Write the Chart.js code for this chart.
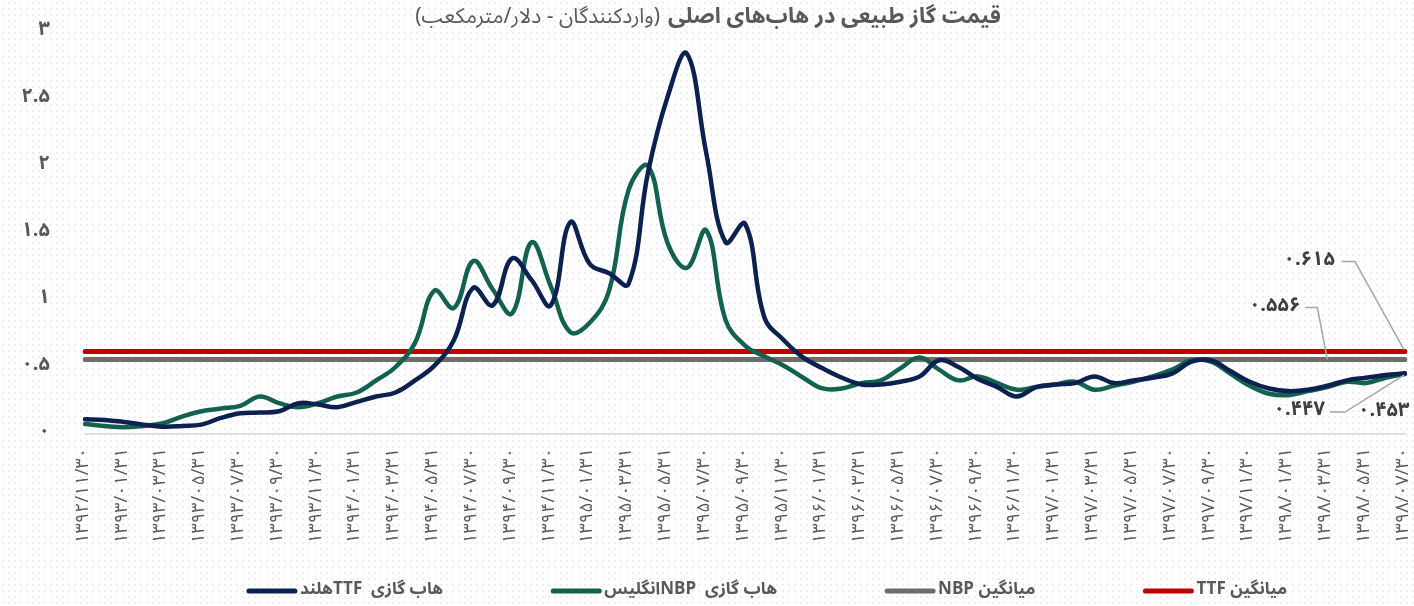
<!DOCTYPE html>
<html lang="fa">
<head>
<meta charset="utf-8">
<script src="https://cdn.jsdelivr.net/npm/chart.js@4"></script>
<style>
  html, body { margin: 0; padding: 0; overflow: hidden; }
  body {
    width: 1414px; height: 606px;
    background-color: #ffffff;
    background-image: radial-gradient(circle, #efefef 0.9px, transparent 1.2px);
    background-size: 6px 6px;
  }
  #wrap { position: relative; width: 1414px; height: 606px; }
</style>
</head>
<body>
<div id="wrap"><canvas id="c" width="1414" height="606"></canvas></div>
<script>
// ---------- DATA ----------
const titleBold = 'قیمت گاز طبیعی در هاب‌های اصلی';
const titleNormal = '(واردکنندگان - دلار/مترمکعب)';

const categories = [
  '۱۳۹۲/۱۱/۳۰','۱۳۹۲/۱۲/۲۹',
  '۱۳۹۳/۰۱/۳۱','۱۳۹۳/۰۲/۳۱','۱۳۹۳/۰۳/۳۱','۱۳۹۳/۰۴/۳۱','۱۳۹۳/۰۵/۳۱','۱۳۹۳/۰۶/۳۱',
  '۱۳۹۳/۰۷/۳۰','۱۳۹۳/۰۸/۳۰','۱۳۹۳/۰۹/۳۰','۱۳۹۳/۱۰/۳۰','۱۳۹۳/۱۱/۳۰','۱۳۹۳/۱۲/۲۹',
  '۱۳۹۴/۰۱/۳۱','۱۳۹۴/۰۲/۳۱','۱۳۹۴/۰۳/۳۱','۱۳۹۴/۰۴/۳۱','۱۳۹۴/۰۵/۳۱','۱۳۹۴/۰۶/۳۱',
  '۱۳۹۴/۰۷/۳۰','۱۳۹۴/۰۸/۳۰','۱۳۹۴/۰۹/۳۰','۱۳۹۴/۱۰/۳۰','۱۳۹۴/۱۱/۳۰','۱۳۹۴/۱۲/۲۹',
  '۱۳۹۵/۰۱/۳۱','۱۳۹۵/۰۲/۳۱','۱۳۹۵/۰۳/۳۱','۱۳۹۵/۰۴/۳۱','۱۳۹۵/۰۵/۳۱','۱۳۹۵/۰۶/۳۱',
  '۱۳۹۵/۰۷/۳۰','۱۳۹۵/۰۸/۳۰','۱۳۹۵/۰۹/۳۰','۱۳۹۵/۱۰/۳۰','۱۳۹۵/۱۱/۳۰','۱۳۹۵/۱۲/۳۰',
  '۱۳۹۶/۰۱/۳۱','۱۳۹۶/۰۲/۳۱','۱۳۹۶/۰۳/۳۱','۱۳۹۶/۰۴/۳۱','۱۳۹۶/۰۵/۳۱','۱۳۹۶/۰۶/۳۱',
  '۱۳۹۶/۰۷/۳۰','۱۳۹۶/۰۸/۳۰','۱۳۹۶/۰۹/۳۰','۱۳۹۶/۱۰/۳۰','۱۳۹۶/۱۱/۳۰','۱۳۹۶/۱۲/۲۹',
  '۱۳۹۷/۰۱/۳۱','۱۳۹۷/۰۲/۳۱','۱۳۹۷/۰۳/۳۱','۱۳۹۷/۰۴/۳۱','۱۳۹۷/۰۵/۳۱','۱۳۹۷/۰۶/۳۱',
  '۱۳۹۷/۰۷/۳۰','۱۳۹۷/۰۸/۳۰','۱۳۹۷/۰۹/۳۰','۱۳۹۷/۱۰/۳۰','۱۳۹۷/۱۱/۳۰','۱۳۹۷/۱۲/۲۹',
  '۱۳۹۸/۰۱/۳۱','۱۳۹۸/۰۲/۳۱','۱۳۹۸/۰۳/۳۱','۱۳۹۸/۰۴/۳۱','۱۳۹۸/۰۵/۳۱','۱۳۹۸/۰۶/۳۱',
  '۱۳۹۸/۰۷/۳۰'
];

const ttfHub = [
  0.11, 0.105, 0.09, 0.07, 0.055, 0.06, 0.07, 0.12, 0.155, 0.16,
  0.17, 0.23, 0.22, 0.20, 0.24, 0.28, 0.31, 0.40, 0.51, 0.70,
  1.09, 0.96, 1.31, 1.15, 0.96, 1.58, 1.27, 1.20, 1.12, 1.95,
  2.51, 2.84, 2.10, 1.43, 1.57, 0.87, 0.70, 0.57, 0.49, 0.42,
  0.37, 0.37, 0.39, 0.43, 0.55, 0.50, 0.41, 0.35, 0.28, 0.35,
  0.37, 0.38, 0.43, 0.38, 0.40, 0.42, 0.45, 0.54, 0.55, 0.47,
  0.39, 0.34, 0.32, 0.33, 0.36, 0.40, 0.42, 0.44, 0.453
];

const nbpHub = [
  0.075, 0.06, 0.05, 0.06, 0.08, 0.13, 0.17, 0.19, 0.21, 0.28,
  0.23, 0.20, 0.23, 0.28, 0.31, 0.40, 0.50, 0.68, 1.07, 0.94,
  1.29, 1.08, 0.90, 1.43, 1.10, 0.76, 0.83, 1.07, 1.82, 2.0,
  1.43, 1.24, 1.52, 0.85, 0.66, 0.58, 0.51, 0.42, 0.34, 0.34,
  0.38, 0.40, 0.49, 0.57, 0.48, 0.40, 0.43, 0.38, 0.33, 0.35,
  0.37, 0.39, 0.33, 0.36, 0.39, 0.43, 0.48, 0.55, 0.54, 0.45,
  0.36, 0.30, 0.29, 0.32, 0.35, 0.39, 0.38, 0.42, 0.447
];

const avgTTF = 0.615;
const avgNBP = 0.556;

const seriesNames = ['هاب گازی  TTFهلند', 'هاب گازی  NBPانگلیس', 'میانگین NBP', 'میانگین TTF'];
const yTickLabels = ['۰', '۰.۵', '۱', '۱.۵', '۲', '۲.۵', '۳'];

// ---------- HELPERS ----------
const FONT = "'Noto Sans Arabic', 'DejaVu Sans', 'Noto Sans', sans-serif";
const faDigits = s => String(s).replace(/[0-9]/g, d => '۰۱۲۳۴۵۶۷۸۹'[+d]);
const fmt = v => faDigits(v.toFixed(3));

const COLORS = { ttf: '#0c2150', nbp: '#13624f', avgNbp: '#6d6d6d', avgTtf: '#c00000' };

const firstCat = categories[0];
const lastCat = categories[categories.length - 1];

// ---------- CUSTOM DRAWING PLUGIN ----------
const decor = {
  id: 'decor',
  afterDraw(chart) {
    const ctx = chart.ctx;
    const xs = chart.scales.x, ys = chart.scales.y;

    // Title
    ctx.save();
    ctx.fillStyle = '#595959';
    ctx.textBaseline = 'middle';
    ctx.direction = 'rtl';
    const fb = 'bold 22px ' + FONT, fn = '21px ' + FONT;
    ctx.font = fb; const wb = ctx.measureText(titleBold).width;
    ctx.font = fn; const wn = ctx.measureText(titleNormal).width;
    const gap = 8;
    const tot = wb + gap + wn;
    const cx = 708, ty = 20;
    const right = cx + tot / 2;
    ctx.textAlign = 'right';
    ctx.font = fb; ctx.fillText(titleBold, right, ty);
    ctx.font = fn; ctx.fillText(titleNormal, right - wb - gap, ty);
    ctx.restore();

    // Legend
    ctx.save();
    const lf = 'bold 17px ' + FONT;
    ctx.font = lf;
    const lineW = 50, lineGap = 3, itemGap = 108;
    const items = chart.data.datasets.map(ds => ({ label: ds.label, color: ds.borderColor, w: ctx.measureText(ds.label).width }));
    const total = items.reduce((a, it) => a + lineW + lineGap + it.w, 0) + itemGap * (items.length - 1);
    let lx = 767 - total / 2;
    const ly = 591;
    items.forEach(it => {
      ctx.strokeStyle = it.color;
      ctx.lineWidth = 5;
      ctx.lineCap = 'round';
      ctx.beginPath(); ctx.moveTo(lx + 2, ly); ctx.lineTo(lx + lineW - 2, ly); ctx.stroke();
      ctx.fillStyle = '#595959';
      ctx.direction = 'rtl';
      ctx.textAlign = 'right';
      ctx.textBaseline = 'middle';
      ctx.fillText(it.label, lx + lineW + lineGap + it.w, ly);
      lx += lineW + lineGap + it.w + itemGap;
    });
    ctx.restore();

    // Data labels with leader lines
    const lastIdx = categories.length - 1;
    const xEnd = xs.getPixelForValue(lastIdx);
    const pTTFavg = { x: xEnd, y: ys.getPixelForValue(avgTTF) };
    const pNBPavg = { x: xs.getPixelForValue(lastIdx - 4), y: ys.getPixelForValue(avgNBP) };
    const pNBPend = { x: xEnd, y: ys.getPixelForValue(nbpHub[lastIdx]) };
    const pTTFend = { x: xEnd, y: ys.getPixelForValue(ttfHub[lastIdx]) };

    ctx.save();
    ctx.font = 'bold 20px ' + FONT;
    ctx.fillStyle = '#404040';
    ctx.textBaseline = 'middle';
    ctx.strokeStyle = '#a6a6a6';
    ctx.lineWidth = 1.5;
    ctx.direction = 'ltr';

    const leader = (pts) => {
      ctx.beginPath();
      ctx.moveTo(pts[0][0], pts[0][1]);
      for (let i = 1; i < pts.length; i++) ctx.lineTo(pts[i][0], pts[i][1]);
      ctx.stroke();
    };

    const ly1 = pTTFavg.y - 90;
    ctx.textAlign = 'right';
    ctx.fillText(fmt(avgTTF), pTTFavg.x - 70, ly1);
    leader([[pTTFavg.x - 63, ly1], [pTTFavg.x - 50, ly1], [pTTFavg.x - 1, pTTFavg.y - 2]]);

    const ly2 = pNBPavg.y - 52;
    ctx.fillText(fmt(avgNBP), pNBPavg.x - 27, ly2);
    leader([[pNBPavg.x - 22, ly2], [pNBPavg.x - 10, ly2], [pNBPavg.x, pNBPavg.y]]);

    const ly3 = pNBPend.y + 38;
    ctx.fillText(fmt(nbpHub[lastIdx]), pNBPend.x - 80, ly3);
    leader([[pNBPend.x - 75, ly3], [pNBPend.x - 60, ly3], [pNBPend.x - 1, pNBPend.y + 1]]);

    ctx.textAlign = 'left';
    ctx.fillText(fmt(ttfHub[lastIdx]), pTTFend.x - 47, pTTFend.y + 40);
    ctx.restore();
  }
};

// ---------- CHART ----------
Chart.defaults.font.family = FONT;

new Chart(document.getElementById('c'), {
  type: 'line',
  data: {
    labels: categories,
    datasets: [
      { label: seriesNames[0], data: ttfHub, borderColor: COLORS.ttf, borderWidth: 4.5, tension: 0.4, pointRadius: 0, fill: false, borderCapStyle: 'round', borderJoinStyle: 'round' },
      { label: seriesNames[1], data: nbpHub, borderColor: COLORS.nbp, borderWidth: 4.5, tension: 0.4, pointRadius: 0, fill: false, borderCapStyle: 'round', borderJoinStyle: 'round' },
      { label: seriesNames[2], data: [{ x: firstCat, y: avgNBP }, { x: lastCat, y: avgNBP }], borderColor: COLORS.avgNbp, borderWidth: 5, pointRadius: 0, fill: false, borderCapStyle: 'round' },
      { label: seriesNames[3], data: [{ x: firstCat, y: avgTTF }, { x: lastCat, y: avgTTF }], borderColor: COLORS.avgTtf, borderWidth: 5, pointRadius: 0, fill: false, borderCapStyle: 'round' }
    ]
  },
  options: {
    responsive: false,
    animation: false,
    devicePixelRatio: 1,
    layout: { padding: { top: 32, right: 9, left: 0, bottom: 0 } },
    plugins: { legend: { display: false }, title: { display: false }, tooltip: { enabled: false } },
    scales: {
      x: {
        type: 'category',
        offset: false,
        grid: { display: false, drawTicks: false },
        border: { display: true, color: '#d9d9d9', width: 1.5 },
        ticks: {
          autoSkip: false,
          maxRotation: 90,
          minRotation: 90,
          padding: 14,
          color: '#595959',
          font: { size: 18, family: FONT },
          callback: function (value, index) { return index % 2 === 0 ? this.getLabelForValue(value) : ''; }
        },
        afterFit(scale) { scale.height = 172; scale.paddingLeft = 0; scale.paddingRight = 0; scale.paddingTop = 0; scale.paddingBottom = 0; }
      },
      y: {
        min: 0, max: 3,
        grid: { display: false, drawTicks: false },
        border: { display: false },
        ticks: {
          stepSize: 0.5,
          padding: 35,
          color: '#595959',
          font: { size: 20, weight: 'bold', family: FONT },
          callback: (value, index) => yTickLabels[index]
        },
        afterFit(scale) { scale.width = 85; scale.paddingTop = 0; scale.paddingBottom = 0; }
      }
    }
  },
  plugins: [decor]
});
</script>
</body>
</html>
